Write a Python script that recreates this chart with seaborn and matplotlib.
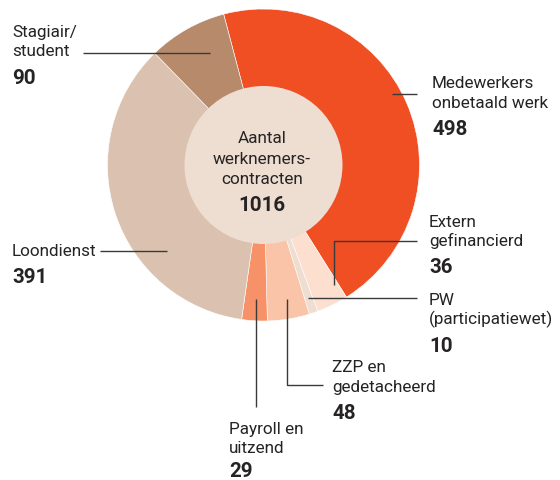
import matplotlib
matplotlib.use("Agg")
import matplotlib.pyplot as plt
import seaborn as sns
from matplotlib.patches import Circle

sns.set_theme(style="white")
plt.rcParams['font.family'] = ['Roboto', 'DejaVu Sans']

# ---- data ----
categories = ["Medewerkers\nonbetaald werk", "Extern\ngefinancierd", "PW\n(participatiewet)",
              "ZZP en\ngedetacheerd", "Payroll en\nuitzend", "Loondienst", "Stagiair/\nstudent"]
values = [498, 36, 10, 48, 29, 391, 90]
colors = ["#F04F24", "#FCDFCF", "#EEDDD1", "#F9C4A7", "#F79167", "#DBC2B0", "#B68A6A"]
center_title = "Aantal\nwerknemers-\ncontracten"
center_total = "1016"

W, H = 560, 481
fig = plt.figure(figsize=(W / 100, H / 100), dpi=100)
ax = fig.add_axes([0, 0, 1, 1])

def Y(y):
    return H - y

cx, cy, R, r_in = 263.5, 166, 156, 79

ax.pie(values, colors=colors, startangle=104.8, counterclock=False,
       center=(cx, Y(cy)), radius=R, frame=True,
       wedgeprops=dict(edgecolor="white", linewidth=0.4))
ax.set_xlim(0, W)
ax.set_ylim(0, H)
ax.set_aspect("equal")
ax.axis("off")
ax.add_patch(Circle((cx, Y(cy)), r_in, facecolor="#EEDDD1", edgecolor="none", zorder=3))

txt = "#262324"
lc = "#3A3A3A"
fs = 12.3
fsb = 14.8

# center text
for t, yb in zip(center_title.split("\n"), [142.7, 164.3, 184.3]):
    ax.text(262, Y(yb), t, ha="center", va="baseline", fontsize=fs, color=txt, zorder=4)
ax.text(262, Y(210.7), center_total, ha="center", va="baseline", fontsize=fsb,
        fontweight="bold", color=txt, zorder=4)

# leader lines (pixel coords of the reference layout)
leaders = [
    [(83, 54), (210, 54)],
    [(392, 95), (417, 95)],
    [(100, 252), (167, 252)],
    [(334, 286), (334, 242), (417, 242)],
    [(308, 299), (417, 299)],
    [(287, 300), (287, 386), (323, 386)],
    [(256, 300), (256, 408)],
]
for pts in leaders:
    xs = [p[0] for p in pts]
    ys = [Y(p[1]) for p in pts]
    ax.plot(xs, ys, color=lc, lw=1.0, zorder=5, solid_capstyle="butt")

# labels: (category index, x, first baseline)
label_pos = {
    6: (12, 37),
    0: (432, 88.3),
    5: (12, 256),
    1: (429, 226.7),
    2: (429, 305),
    3: (332, 372.3),
    4: (229, 434),
}
for i, (x, yb) in label_pos.items():
    lines = categories[i].split("\n")
    for k, t in enumerate(lines):
        ax.text(x, Y(yb + 19.5 * k), t, ha="left", va="baseline", fontsize=fs, color=txt)
    nb = yb + 19.5 * (len(lines) - 1) + 27
    ax.text(x, Y(min(nb, 477.5)), str(values[i]), ha="left",
            va="baseline", fontsize=fsb, fontweight="bold", color=txt)

fig.savefig("out.png", dpi=100)
